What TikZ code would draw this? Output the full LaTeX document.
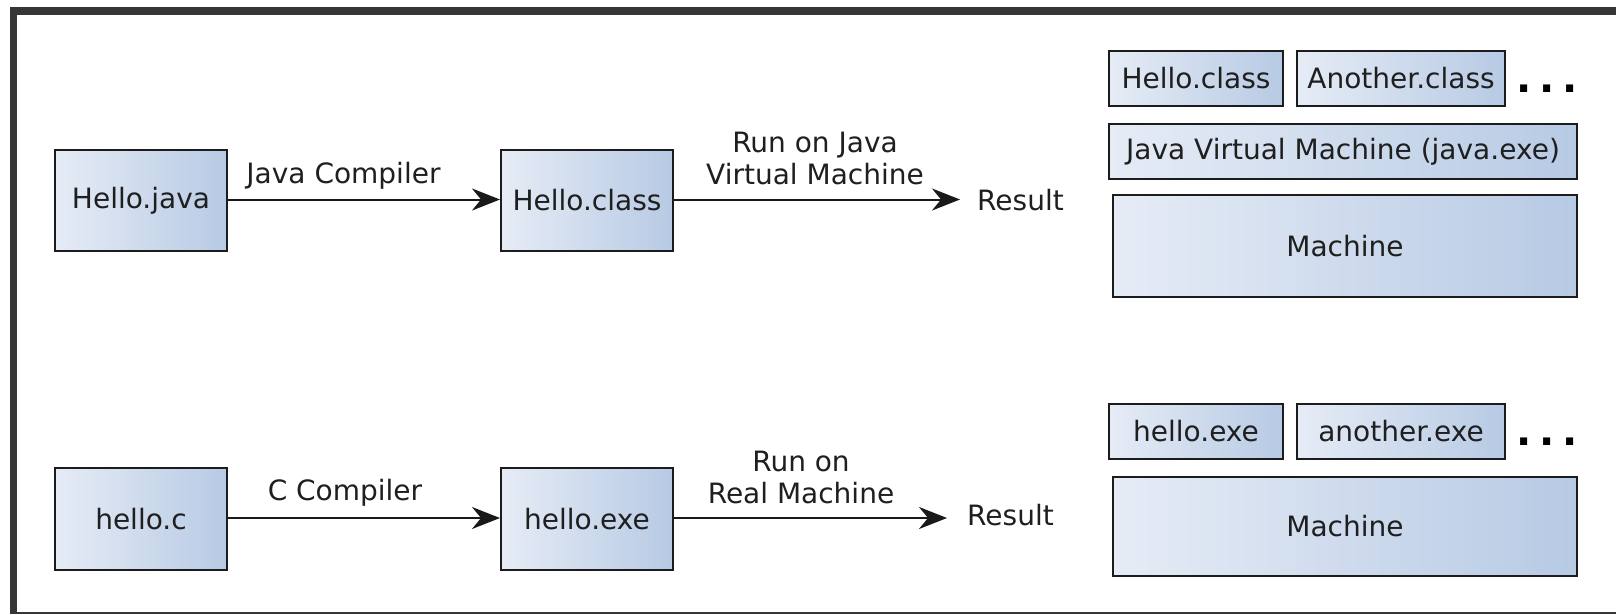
\documentclass[tikz,border=0pt]{standalone}
\usepackage{fontspec}
\setmainfont{DejaVu Sans}
\usetikzlibrary{arrows.meta}
\definecolor{framegray}{HTML}{363636}
\definecolor{boxleft}{HTML}{E6ECF6}
\definecolor{boxright}{HTML}{B7CAE4}
\definecolor{boxline}{HTML}{1C1C1C}
\tikzset{
  fbox/.style={draw=boxline, line width=2pt, left color=boxleft, right color=boxright,
    inner sep=0pt, font=\fontsize{28}{32}\selectfont, text=black!88},
  lbl/.style={inner sep=0pt, font=\fontsize{28}{32}\selectfont, text=black!88, align=center},
  dots/.style={inner sep=0pt, font=\fontsize{40}{44}\selectfont\bfseries, text=black},
  arr/.style={draw=black!90, line width=2pt, -{Stealth[length=28pt,width=22pt,inset=9pt]}}
}
\begin{document}
\begin{tikzpicture}[x=1pt,y=-1pt]
\useasboundingbox (0,0) rectangle (1616,614);
\fill[white] (0,0) rectangle (1616,614);
\fill[framegray] (10,7) rectangle (1616,614);
\fill[white] (17.3,15) rectangle (1616,611.7);

% Java row
\node[fbox, minimum width=172pt, minimum height=101pt] (hj) at (141,200.5) {Hello.java};
\node[fbox, minimum width=172pt, minimum height=101pt] (hc) at (587,200.5) {Hello.class};
\node[lbl, anchor=base west] (res1) at (977,210) {Result};
\node[lbl, anchor=base] (jcomp) at (343.5,183) {Java Compiler};
\node[lbl, anchor=south] (jrun) at (815,185.5) {Run on Java\\Virtual Machine};
\draw[arr] (hj.east |- 0,199.5) -- (hc.west |- 0,199.5);
\draw[arr, shorten >=17pt] (hc.east |- 0,199.5) -- (res1.west |- 0,199.5);

% C row
\node[fbox, minimum width=172pt, minimum height=102pt] (hcc) at (141,519) {hello.c};
\node[fbox, minimum width=172pt, minimum height=102pt] (hexe) at (587,519) {hello.exe};
\node[lbl, anchor=base west] (res2) at (967,525) {Result};
\node[lbl, anchor=base] (ccomp) at (345,500) {C Compiler};
\node[lbl, anchor=south] (crun) at (801,504) {Run on\\Real Machine};
\draw[arr] (hcc.east |- 0,518) -- (hexe.west |- 0,518);
\draw[arr, shorten >=20pt] (hexe.east |- 0,518) -- (res2.west |- 0,518);

% Java stack
\node[fbox, minimum width=174pt, minimum height=55pt] (shc) at (1196,78.5) {Hello.class};
\node[fbox, minimum width=208pt, minimum height=55pt] (sac) at (1401,78.5) {Another.class};
\node[dots, anchor=base west] (dots1) at (1516,92) {.\hspace{8pt}.\hspace{8pt}.};
\node[fbox, minimum width=468pt, minimum height=55pt] (jvm) at (1343,151.5) {Java Virtual Machine (java.exe)};
\node[fbox, minimum width=464pt, minimum height=102pt] (jm) at (1345,246) {Machine};

% C stack
\node[fbox, minimum width=174pt, minimum height=55pt] (she) at (1196,431.5) {hello.exe};
\node[fbox, minimum width=208pt, minimum height=55pt] (sae) at (1401,431.5) {another.exe};
\node[dots, anchor=base west] (dots2) at (1516,445) {.\hspace{8pt}.\hspace{8pt}.};
\node[fbox, minimum width=464pt, minimum height=99pt] (cm) at (1345,526.5) {Machine};
\end{tikzpicture}
\end{document}
